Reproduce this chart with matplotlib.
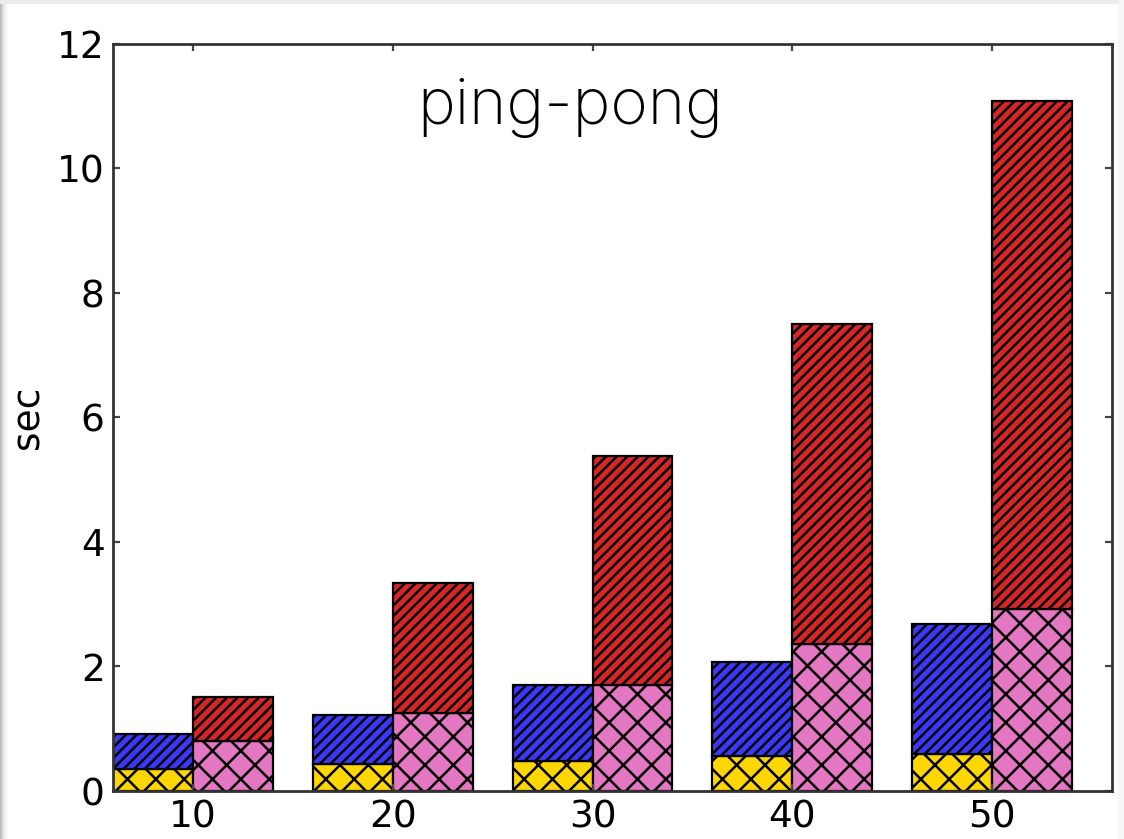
import matplotlib
matplotlib.use("Agg")
import matplotlib.pyplot as plt
import numpy as np
from matplotlib.patches import Rectangle

# ---- data ----
sizes = [10, 20, 30, 40, 50]
yellow = [0.34, 0.42, 0.48, 0.55, 0.58]
blue_top = [0.91, 1.21, 1.69, 2.06, 2.67]
pink = [0.79, 1.24, 1.70, 2.36, 2.92]
red_top = [1.50, 3.33, 5.37, 7.49, 11.08]
yticks = [0, 2, 4, 6, 8, 10, 12]
title = "ping-pong"
ylabel = "sec"

DPI = 255
S = 200.0 / DPI  # keep pixel sizes as designed at 200 dpi
W, H = 1124, 839
plt.rcParams['hatch.linewidth'] = 0.9 * S
plt.rcParams['font.family'] = ['DejaVu Sans']

fig = plt.figure(figsize=(W / DPI, H / DPI), dpi=DPI, facecolor='white')

# screenshot-like shadow edges
for i, c in enumerate(['#b8b8b8', '#c8c8c8', '#d6d6d6', '#e2e2e2', '#ebebeb', '#f2f2f2', '#f7f7f7', '#fbfbfb']):
    fig.patches.append(Rectangle((i / W, 0), 1 / W, 1, transform=fig.transFigure,
                                 facecolor=c, edgecolor='none', zorder=0))
fig.patches.append(Rectangle((0, 1 - 4 / H), 1, 4 / H, transform=fig.transFigure,
                             facecolor='#ececec', edgecolor='none', zorder=0))
fig.patches.append(Rectangle((1 - 6 / W, 0), 6 / W, 1, transform=fig.transFigure,
                             facecolor='#f6f6f6', edgecolor='none', zorder=0))

ax = fig.add_axes([113 / W, 1 - 790.5 / H, (1112 - 113) / W, (790.5 - 43.7) / H])

x = np.array(sizes, dtype=float)
yel = np.array(yellow)
blu = np.array(blue_top) - yel
pnk = np.array(pink)
red = np.array(red_top) - pnk

w = 4
lw = 0.8 * S
ax.bar(x - w, yel, width=w, align='edge', color='#FFD700', edgecolor='black', linewidth=lw, hatch='xxx')
ax.bar(x - w, blu, width=w, bottom=yel, align='edge', color='#3C38F8', edgecolor='black', linewidth=lw, hatch='////////')
ax.bar(x, pnk, width=w, align='edge', color='#E377C2', edgecolor='black', linewidth=lw, hatch='xxx')
ax.bar(x, red, width=w, bottom=pnk, align='edge', color='#D62728', edgecolor='black', linewidth=lw, hatch='////////')

ax.set_xlim(6, 56)
ax.set_ylim(0, 12)
ax.set_xticks(sizes)
ax.set_yticks(yticks)
ax.tick_params(direction='in', length=2.5 * S, width=0.8 * S, top=True, right=True,
               labelsize=13.5 * S, pad=3 * S, color='#444444')
for s in ax.spines.values():
    s.set_linewidth(1.0 * S)
    s.set_color('#333333')
ax.set_ylabel(ylabel, fontsize=13.5 * S, labelpad=3.8 * S)

ax.text(0.458, 0.893, title, transform=ax.transAxes, ha='center', va='baseline',
        fontsize=23 * S, family=['Inter', 'DejaVu Sans'], fontweight='light')

fig.savefig('out.png', dpi=DPI, facecolor=fig.get_facecolor())
